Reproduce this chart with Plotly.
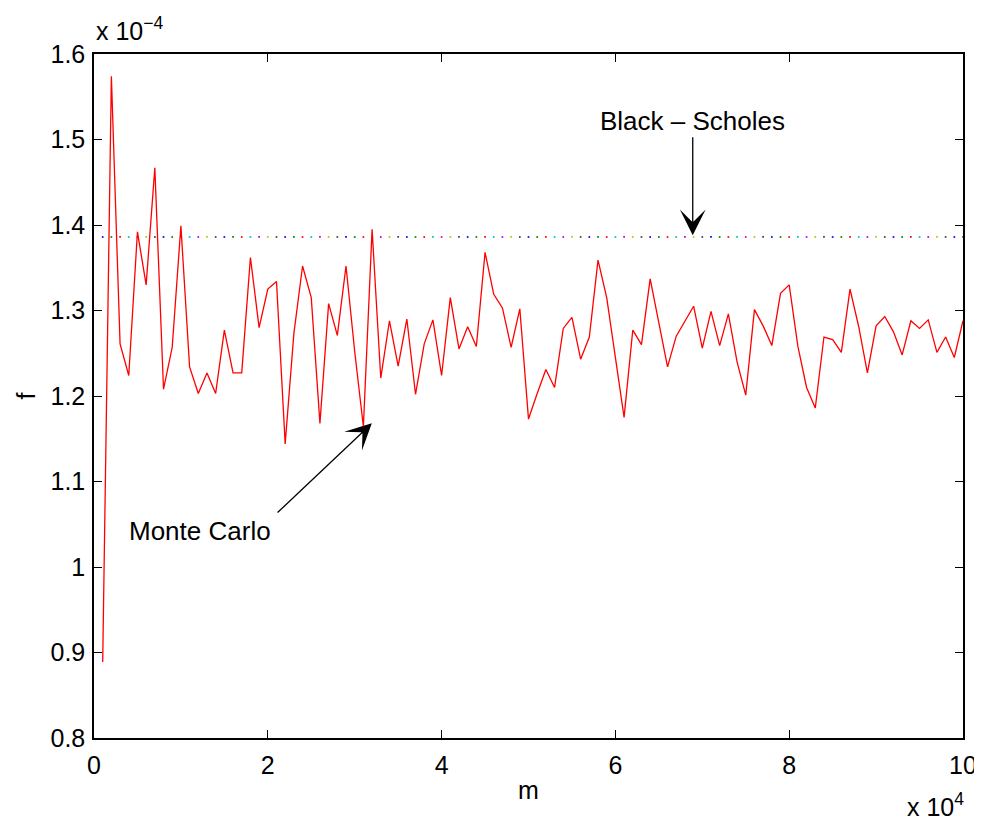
import plotly.graph_objects as go

# m values (number of Monte Carlo samples)
m_values = [1000 * k for k in range(1, 101)]

# Monte Carlo estimates of f (units of 1e-4)
mc_values = [
    0.889, 1.574, 1.261, 1.224, 1.392, 1.330, 1.467, 1.208, 1.257, 1.399,
    1.234, 1.203, 1.227, 1.203, 1.277, 1.227, 1.227, 1.362, 1.280, 1.325,
    1.334, 1.144, 1.273, 1.352, 1.315, 1.168, 1.308, 1.271, 1.352, 1.252,
    1.164, 1.395, 1.221, 1.288, 1.235, 1.290, 1.202, 1.261, 1.289, 1.224,
    1.315, 1.255, 1.281, 1.258, 1.368, 1.319, 1.303, 1.257, 1.302, 1.173,
    1.203, 1.231, 1.210, 1.279, 1.292, 1.243, 1.269, 1.359, 1.315, 1.245,
    1.175, 1.277, 1.260, 1.337, 1.285, 1.234, 1.270, 1.287, 1.305, 1.256,
    1.299, 1.259, 1.296, 1.240, 1.201, 1.301, 1.282, 1.259, 1.320, 1.330,
    1.258, 1.210, 1.186, 1.269, 1.266, 1.251, 1.325, 1.281, 1.227, 1.282,
    1.293, 1.275, 1.248, 1.288, 1.279, 1.289, 1.251, 1.269, 1.245, 1.288,
]

# Black-Scholes reference value (units of 1e-4)
bs_value = 1.386

x_ticks = [0, 2, 4, 6, 8, 10]
y_ticks = [0.8, 0.9, 1.0, 1.1, 1.2, 1.3, 1.4, 1.5, 1.6]
y_tick_text = ["0.8", "0.9", "1", "1.1", "1.2", "1.3", "1.4", "1.5", "1.6"]

matlab_colors = ["#0000ff", "#008000", "#ff0000", "#00bfbf", "#bf00bf", "#bfbf00", "#404040"]

x_scaled = [m / 1e4 for m in m_values]

FONT = "Liberation Sans, Arial, Helvetica, sans-serif"

fig = go.Figure()

fig.add_trace(go.Scatter(
    x=x_scaled, y=[bs_value] * len(x_scaled), mode="markers",
    marker=dict(size=1.7, symbol="square",
                color=[matlab_colors[i % 7] for i in range(len(x_scaled))],
                line=dict(width=0)),
    showlegend=False, hoverinfo="skip",
))

fig.add_trace(go.Scatter(
    x=x_scaled, y=mc_values, mode="lines",
    line=dict(color="#ff0000", width=1.3),
    showlegend=False,
))

axis_common = dict(
    showline=True, linecolor="black", linewidth=1.5, mirror="ticks",
    ticks="inside", ticklen=8, tickwidth=1, tickcolor="black",
    showgrid=False, zeroline=False, automargin=False,
    tickfont=dict(family=FONT, size=25, color="black"),
)

fig.update_xaxes(range=[0, 10], tickvals=x_ticks,
                 title=dict(text="m", font=dict(family=FONT, size=25, color="black"), standoff=4),
                 ticklabelstandoff=4, **axis_common)
fig.update_yaxes(range=[0.8, 1.6], tickvals=y_ticks, ticktext=y_tick_text,
                 title=dict(text="f", font=dict(family=FONT, size=25, color="black"), standoff=8),
                 ticklabelstandoff=2, **axis_common)

ann_font = dict(family=FONT, size=26, color="black")

# Black-Scholes label with arrow
fig.add_annotation(x=6.89, y=bs_value + 0.002, ax=6.89, ay=1.522, xref="x", yref="y", axref="x", ayref="y",
                   text="Black \u2013 Scholes", font=ann_font, showarrow=True,
                   arrowhead=3, arrowsize=3.3, arrowwidth=1.3, arrowcolor="black", standoff=0)

# Monte Carlo label
fig.add_annotation(x=1.22, y=1.042, xref="x", yref="y", text="Monte Carlo", font=ann_font, showarrow=False)
fig.add_annotation(x=3.197, y=1.168, ax=2.095, ay=1.062, xref="x", yref="y", axref="x", ayref="y",
                   text="", showarrow=True, arrowhead=3, arrowsize=3.3, arrowwidth=1.3, arrowcolor="black", standoff=0)

# Exponent labels
fig.add_annotation(xref="paper", yref="paper", x=0.0, y=1.01, xanchor="left", yanchor="bottom",
                   text="x 10<sup>\u22124</sup>", font=dict(family=FONT, size=25, color="black"), showarrow=False)
fig.add_annotation(xref="paper", yref="paper", x=1.003, y=-0.071, xanchor="right", yanchor="top",
                   text="x 10<sup>4</sup>", font=dict(family=FONT, size=25, color="black"), showarrow=False)

fig.update_layout(
    width=974, height=811,
    margin=dict(l=86, r=19, t=46, b=81),
    paper_bgcolor="white", plot_bgcolor="white",
    font=dict(family=FONT, size=25, color="black"),
)

fig.write_html("out.html")
